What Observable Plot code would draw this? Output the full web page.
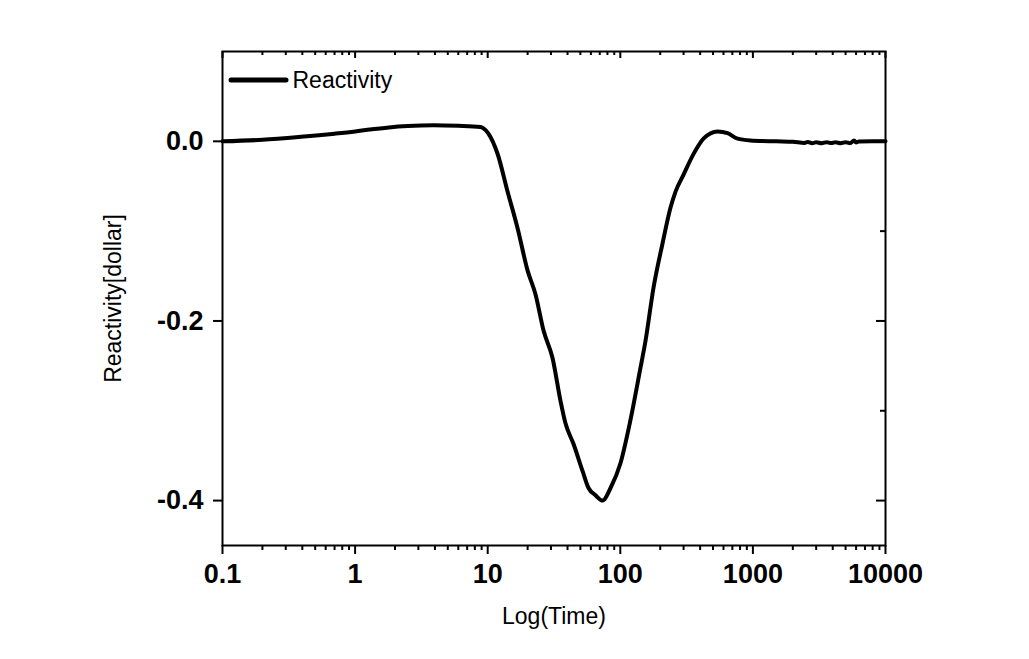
<!DOCTYPE html>
<html><head><meta charset="utf-8">
<script src="https://cdn.jsdelivr.net/npm/d3@7"></script>
<script src="https://cdn.jsdelivr.net/npm/@observablehq/plot@0.6"></script>
<style>body{margin:0;background:#fff} svg{display:block}</style>
</head><body><div id="chart"></div>
<script>
// ---- data ----
const time = [0.1, 0.2, 0.39, 0.7, 1, 1.24, 1.8, 2.5, 3.9, 6, 8.8, 9.3, 10.1, 11.9, 14.1, 16.8, 20, 22.9, 26.4, 30.8, 35.4, 38.6, 44.4, 51.9, 57.6, 65, 73.4, 84.4, 100, 119, 142, 155, 178, 208, 239, 261, 300, 357, 424, 541, 644, 766, 960, 1500, 2000, 2450, 2600, 2800, 3000, 3300, 3600, 3900, 4200, 4600, 5000, 5400, 5800, 6000, 6300, 8000, 10000];
const reactivity = [0, 0.0017, 0.0050, 0.0085, 0.0110, 0.0128, 0.0155, 0.0170, 0.0178, 0.0172, 0.0160, 0.0145, 0.0089, -0.0144, -0.0556, -0.0967, -0.144, -0.170, -0.211, -0.241, -0.289, -0.314, -0.337, -0.367, -0.386, -0.394, -0.400, -0.386, -0.359, -0.311, -0.252, -0.222, -0.163, -0.114, -0.074, -0.056, -0.037, -0.014, 0.003, 0.011, 0.009, 0.003, 0.001, 0.0, -0.0005, -0.0018, -0.0008, -0.0022, -0.0010, -0.0022, -0.0009, -0.0020, -0.0010, -0.0022, -0.0009, -0.0021, 0.0008, -0.0012, -0.0003, 0.0, 0.0];
const seriesName = "Reactivity";
const xMajorTicks = [0.1, 1, 10, 100, 1000, 10000];
const xTickLabels = ["0.1", "1", "10", "100", "1000", "10000"];
const xMinorTicks = [-1, 0, 1, 2, 3].flatMap(k => [2,3,4,5,6,7,8,9].map(m => +(m * Math.pow(10, k)).toPrecision(3)));
const yMajorTicks = [0, -0.2, -0.4];
const yTickLabels = ["0.0", "-0.2", "-0.4"];
const yMinorTicks = [-0.1, -0.3];
const xTitle = "Log(Time)";
const yTitle = "Reactivity[dollar]";

// ---- layout ----
const W = 1029, H = 659, mL = 222, mR = 144, mT = 51, mB = 114;
const plotW = W - mL - mR, plotH = H - mT - mB;
const data = time.map((t, i) => ({t, r: reactivity[i]}));
const font = "'Liberation Sans', Arial, sans-serif";

const chart = Plot.plot({
  width: W, height: H,
  marginLeft: mL, marginRight: mR, marginTop: mT, marginBottom: mB,
  style: {fontFamily: font, background: "#fff", color: "#000"},
  x: {type: "log", domain: [0.1, 10000], label: null},
  y: {domain: [-0.45, 0.1], label: null},
  marks: [
    Plot.line(data, {x: "t", y: "r", stroke: "#000", strokeWidth: 4, curve: "monotone-x", strokeLinejoin: "round", strokeLinecap: "round"}),
    Plot.frame({stroke: "#000", strokeWidth: 2}),
    // bottom axis (outward)
    Plot.axisX({ticks: xMajorTicks, anchor: "bottom", tickSize: 9, tickPadding: 9, strokeWidth: 2,
      tickFormat: d => xTickLabels[xMajorTicks.indexOf(d)], fontSize: 27, fontWeight: "bold", label: null}),
    Plot.axisX({ticks: xMinorTicks, anchor: "bottom", tickSize: 5, strokeWidth: 2, tickFormat: () => "", label: null}),
    // top inward ticks
    Plot.tickX(xMajorTicks, {x: d => d, insetBottom: plotH - 7, stroke: "#000", strokeWidth: 2}),
    Plot.tickX(xMinorTicks, {x: d => d, insetBottom: plotH - 4, stroke: "#000", strokeWidth: 2}),
    // left axis (outward)
    Plot.axisY({ticks: yMajorTicks, anchor: "left", tickSize: 9, tickPadding: 10, strokeWidth: 2,
      tickFormat: d => yTickLabels[yMajorTicks.indexOf(d)], fontSize: 27, fontWeight: "bold", label: null}),
    // right inward ticks
    Plot.tickY(yMajorTicks, {y: d => d, insetLeft: plotW - 9, stroke: "#000", strokeWidth: 2}),
    Plot.tickY(yMinorTicks, {y: d => d, insetLeft: plotW - 5, stroke: "#000", strokeWidth: 2}),
    // titles
    Plot.text([xTitle], {text: d => d, frameAnchor: "bottom", dy: 62, lineAnchor: "top", fontSize: 23}),
    Plot.text([yTitle], {text: d => d, frameAnchor: "left", rotate: -90, dx: -109, textAnchor: "middle", lineAnchor: "middle", fontSize: 23}),
    // legend label
    Plot.text([seriesName], {text: d => d, frameAnchor: "top-left", dx: 70, dy: 29, textAnchor: "start", lineAnchor: "middle", fontSize: 23})
  ]
});
document.getElementById("chart").appendChild(chart);

// legend sample line
d3.select(chart).append("line")
  .attr("x1", mL + 9).attr("x2", mL + 64)
  .attr("y1", mT + 29).attr("y2", mT + 29)
  .attr("stroke", "#000").attr("stroke-width", 5).attr("stroke-linecap", "round");
</script>
</body></html>
